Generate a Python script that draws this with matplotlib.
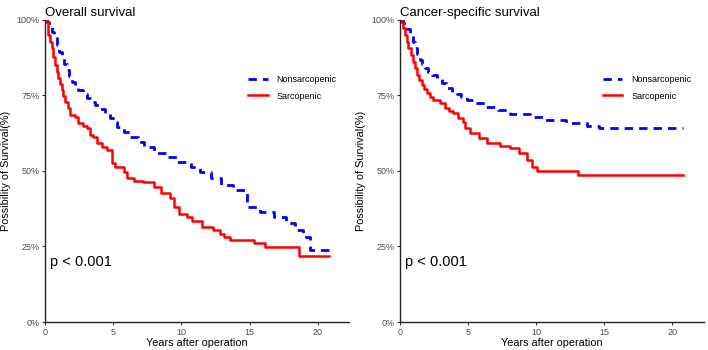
import numpy as np
import matplotlib
matplotlib.use("Agg")
import matplotlib.pyplot as plt

plt.rcParams['font.family'] = ['Liberation Sans', 'DejaVu Sans']

# Kaplan-Meier step points (years, survival %)
os_non_t = [0, 0.12, 0.3, 0.49, 0.68, 0.86, 1.05, 1.23, 1.42, 1.6, 1.78, 1.97, 2.2, 2.45,
            2.75, 3.07, 3.38, 3.68, 4.05, 4.42, 4.8, 5.15, 5.28, 5.8, 6.26, 6.8, 7.24, 7.97,
            8.96, 9.7, 10.7, 11.4, 12.15, 12.9, 13.8, 14.85, 15.8, 16.8, 17.7, 18.3, 18.9,
            19.4, 20.9]
os_non_s = [100, 99.4, 97.8, 96.1, 93.9, 91.7, 89.5, 87.3, 85.3, 83.4, 81.5, 79.6, 78.2, 76.8,
            75.4, 74.1, 73, 71.9, 70.5, 69.1, 67.7, 66.3, 64.7, 63, 61.4, 59.5, 58, 55.9,
            54.7, 52.9, 51.4, 49.8, 47.6, 45.4, 43.7, 38.2, 36.5, 34.9, 32.7, 30.5, 28.2,
            23.8, 23.5]

os_sar_t = [0, 0.12, 0.25, 0.37, 0.49, 0.62, 0.74, 0.86, 0.98, 1.1, 1.23, 1.35, 1.47, 1.65,
            1.84, 2.2, 2.45, 2.8, 3.07, 3.31, 3.55, 3.8, 4.2, 4.54, 4.9, 5.15, 5.77, 6.0,
            6.5, 7.2, 7.97, 8.47, 9.2, 9.45, 9.8, 10.4, 10.8, 11.5, 12.3, 12.8, 13.1, 13.6,
            15.3, 16.1, 18.6, 20.8]
os_sar_s = [100, 99.4, 95, 92.8, 90.6, 87.8, 85.1, 82.9, 80.7, 78.7, 76.8, 74.8, 72.9, 70.7,
            68.5, 68, 65.8, 65, 64.1, 61.9, 61.4, 59.2, 58, 57, 52.5, 51.2, 49.8, 47.6,
            46.7, 46.4, 44.8, 42.6, 41, 38.2, 35.7, 34.9, 33.5, 31.6, 30.5, 29, 28, 27.2,
            26.1, 24.7, 21.9, 21.9]

css_non_t = [0, 0.24, 0.5, 0.73, 0.92, 1.1, 1.28, 1.46, 1.65, 1.83, 2.08, 2.32, 2.7, 3.05,
             3.4, 3.78, 4.15, 4.51, 4.95, 5.37, 6.34, 7.2, 8.05, 9.56, 10.5, 12.2, 13.7,
             14.6, 20.8]
css_non_s = [100, 98.9, 97, 95, 92.8, 90.6, 88.7, 86.8, 85.4, 84, 82.9, 81.8, 80.4, 79,
             77.6, 76.3, 75.4, 74.6, 73.5, 72.4, 71.3, 70.2, 68.9, 68, 66.9, 65.8, 64.9,
             64.3, 64.3]

css_sar_t = [0, 0.1, 0.24, 0.37, 0.49, 0.61, 0.8, 0.98, 1.1, 1.22, 1.4, 1.59, 1.77, 1.95,
             2.2, 2.44, 2.93, 3.29, 3.6, 3.9, 4.25, 4.63, 4.8, 5.17, 5.78, 6.39, 7.37, 8.1,
             8.7, 9.3, 9.68, 10.04, 13.1, 20.8]
css_sar_s = [100, 99.4, 97.2, 95, 92.8, 90.6, 88.4, 86.2, 84, 81.8, 80.2, 78.5, 77.1, 75.7,
             74.6, 73.5, 72.4, 70.8, 70, 69.1, 67.7, 66.3, 64.1, 62.5, 60.8, 59.2, 58.3, 57.5,
             55.9, 53.6, 51.4, 50.1, 48.7, 48.7]

titles = ['Overall survival', 'Cancer-specific survival']
groups = ['Nonsarcopenic', 'Sarcopenic']
y_ticks = [0, 25, 50, 75, 100]
y_labels = ['0%', '25%', '50%', '75%', '100%']
x_ticks = [0, 5, 10, 15, 20]

panels = [(os_non_t, os_non_s, os_sar_t, os_sar_s),
          (css_non_t, css_non_s, css_sar_t, css_sar_s)]

fig = plt.figure(figsize=(7.08, 3.5), dpi=100)
boxes = [[0.0636, 0.08, 0.4294, 0.863], [0.565, 0.08, 0.429, 0.863]]

for box, title, (nt, ns, st, ss) in zip(boxes, titles, panels):
    ax = fig.add_axes(box)
    ax.step(nt, ns, where='post', color='blue', lw=2, dashes=(3, 2.2), label=groups[0])
    ax.step(st, ss, where='post', color='red', lw=1.8, label=groups[1])
    ax.set_xlim(0, 22.3)
    ax.set_ylim(0, 100)
    ax.set_xticks(x_ticks)
    ax.set_yticks(y_ticks)
    ax.set_yticklabels(y_labels)
    ax.tick_params(labelsize=6.5, labelcolor='#4d4d4d', length=2.5, width=0.8,
                   color='#333333', pad=1.5)
    for side in ['top', 'right']:
        ax.spines[side].set_visible(False)
    for side in ['left', 'bottom']:
        ax.spines[side].set_linewidth(1.0)
        ax.spines[side].set_color('#222222')
    ax.set_xlabel('Years after operation', fontsize=7.8, labelpad=1)
    ax.set_ylabel('Possibility of Survival(%)', fontsize=7.8, labelpad=4)
    ax.set_title(title, fontsize=9.5, loc='left', pad=3)
    ax.text(0.4, 20, 'p < 0.001', fontsize=10.5, va='center', ha='left')
    ax.legend(loc='center left', bbox_to_anchor=(0.64, 0.775), frameon=False,
              fontsize=6.5, handlelength=2.2, labelspacing=0.8, handletextpad=1.0)

fig.savefig('out.png', dpi=100)
